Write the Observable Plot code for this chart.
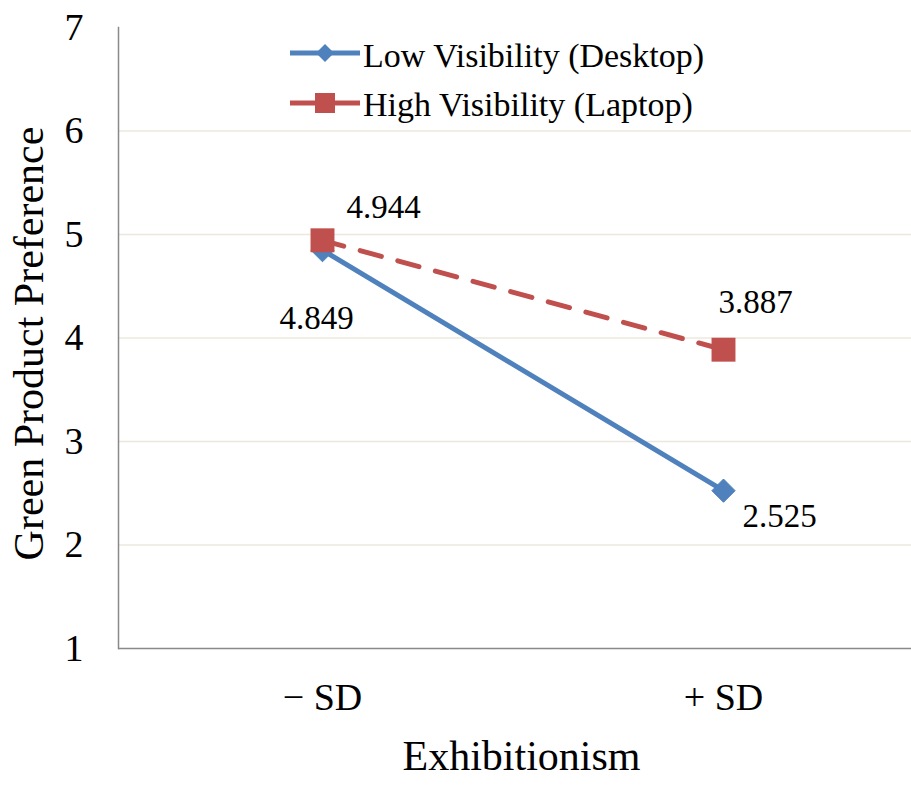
<!DOCTYPE html>
<html>
<head>
<meta charset="utf-8">
<script src="https://cdn.jsdelivr.net/npm/d3@7"></script>
<script src="https://cdn.jsdelivr.net/npm/@observablehq/plot@0.6"></script>
<style>
  html, body { margin: 0; padding: 0; background: #fff; }
  #wrap { position: relative; width: 911px; height: 793px; font-family: "Liberation Serif", "Times New Roman", serif; }
  #legend { position: absolute; left: 280px; top: 20px; }
</style>
</head>
<body>
<div id="wrap"></div>
<script>
// ---- data ----
const categories = ["− SD", "+ SD"];
const seriesNames = ["Low Visibility (Desktop)", "High Visibility (Laptop)"];
const lowValues = [4.849, 2.525];
const highValues = [4.944, 3.887];
const yTicks = [1, 2, 3, 4, 5, 6, 7];
const gridTicks = [2, 3, 4, 5, 6];
const xTitle = "Exhibitionism";
const yTitle = "Green Product Preference";

// ---- styles ----
const blue = "#4F81BD";
const red = "#C0504D";
const axisColor = "#898989";
const gridColor = "#ECE8DE";
const font = "Liberation Serif";

const lowData = categories.map((c, i) => ({cat: c, value: lowValues[i], series: seriesNames[0]}));
const highData = categories.map((c, i) => ({cat: c, value: highValues[i], series: seriesNames[1]}));

// label offsets (style), per point
const labelOffsets = {
  low: [{dx: -6, dy: 68}, {dx: 56, dy: 26}],
  high: [{dx: 61, dy: -33}, {dx: 32, dy: -47}]
};

const labelMarks = [];
lowData.forEach((d, i) => labelMarks.push(Plot.text([d], {x: "cat", y: "value", text: d => d.value.toFixed(3), fontSize: 33, fill: "#000", ...labelOffsets.low[i]})));
highData.forEach((d, i) => labelMarks.push(Plot.text([d], {x: "cat", y: "value", text: d => d.value.toFixed(3), fontSize: 33, fill: "#000", ...labelOffsets.high[i]})));

const chart = Plot.plot({
  width: 911,
  height: 793,
  marginLeft: 118,
  marginRight: 0,
  marginTop: 27,
  marginBottom: 145,
  style: {fontFamily: font, fontSize: "38px", color: "#000", background: "#fff", overflow: "visible"},
  x: {type: "point", domain: categories, range: [322, 723], padding: 0, label: null},
  y: {domain: [1, 7], label: null},
  marks: [
    Plot.ruleY(gridTicks, {stroke: gridColor, strokeWidth: 1.5}),
    Plot.frame({anchor: "left", stroke: axisColor, strokeWidth: 1.5}),
    Plot.ruleY([1], {stroke: axisColor, strokeWidth: 1.5}),
    Plot.axisY({ticks: yTicks, tickSize: 0, tickPadding: 35, fontSize: 38, tickFormat: d => String(d), label: null}),
    Plot.axisX({tickSize: 0, tickPadding: 35, fontSize: 38, label: null}),
    Plot.line(lowData, {x: "cat", y: "value", stroke: blue, strokeWidth: 5}),
    Plot.dot(lowData, {x: "cat", y: "value", symbol: "diamond2", fill: blue, stroke: blue, strokeWidth: 1, r: 10.5}),
    Plot.line(highData, {x: "cat", y: "value", stroke: red, strokeWidth: 5, strokeDasharray: "22,17"}),
    Plot.dot(highData, {x: "cat", y: "value", symbol: "square", fill: red, r: 13.5}),
    ...labelMarks,
    Plot.text([xTitle], {frameAnchor: "bottom", textAnchor: "middle", dx: 6.5, dy: 121.5, fontSize: 42, fill: "#000"}),
    Plot.text([yTitle], {frameAnchor: "left", textAnchor: "middle", rotate: -90, dx: -88.5, dy: 5.5, fontSize: 42, fill: "#000"})
  ]
});

const wrap = document.getElementById("wrap");
wrap.appendChild(chart);

// ---- legend (inside plot area, top) ----
const ns = "http://www.w3.org/2000/svg";
const leg = document.createElementNS(ns, "svg");
leg.setAttribute("id", "legend");
leg.setAttribute("width", 460);
leg.setAttribute("height", 110);
const rows = [
  {name: seriesNames[0], color: blue, symbol: "diamond", cy: 33, base: 47},
  {name: seriesNames[1], color: red, symbol: "square", cy: 83, base: 96}
];
rows.forEach(r => {
  const ln = document.createElementNS(ns, "line");
  ln.setAttribute("x1", 10); ln.setAttribute("x2", 80);
  ln.setAttribute("y1", r.cy); ln.setAttribute("y2", r.cy);
  ln.setAttribute("stroke", r.color); ln.setAttribute("stroke-width", 5);
  leg.appendChild(ln);
  const p = document.createElementNS(ns, "path");
  if (r.symbol === "diamond") {
    p.setAttribute("d", `M45,${r.cy - 9}L54,${r.cy}L45,${r.cy + 9}L36,${r.cy}Z`);
  } else {
    p.setAttribute("d", `M35,${r.cy - 10}h20v20h-20Z`);
  }
  p.setAttribute("fill", r.color);
  leg.appendChild(p);
  const t = document.createElementNS(ns, "text");
  t.setAttribute("x", 83); t.setAttribute("y", r.base);
  t.setAttribute("font-family", font);
  t.setAttribute("font-size", 34);
  t.setAttribute("fill", "#000");
  t.textContent = r.name;
  leg.appendChild(t);
});
wrap.appendChild(leg);
</script>
</body>
</html>
